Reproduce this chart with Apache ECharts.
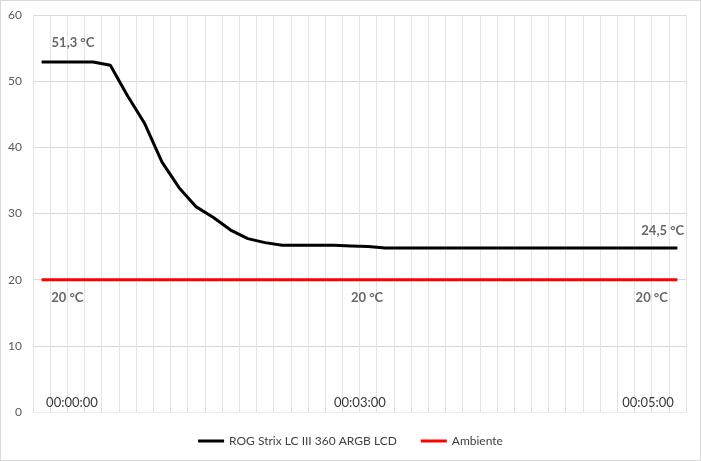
<!DOCTYPE html>
<html>
<head>
<meta charset="utf-8">
<script src="https://cdn.jsdelivr.net/npm/echarts@6/dist/echarts.min.js"></script>
<style>
html,body{margin:0;padding:0;background:#fff;}
#c{width:701px;height:461px;box-sizing:border-box;border:1px solid #d9d9d9;}
</style>
</head>
<body>
<div id="c"></div>
<script>
// Data
var categories = ['1','2','3','4','5','6','7','8','9','10','11','12','13','14','15','16','17','18','19','20',
                  '21','22','23','24','25','26','27','28','29','30','31','32','33','34','35','36','37','38'];
var rogValues = [52.9,52.9,52.9,52.9,52.4,47.8,43.6,37.8,33.9,31.0,29.4,27.5,26.2,25.6,25.2,25.2,25.2,25.2,25.1,25.0,
                 24.8,24.8,24.8,24.8,24.8,24.8,24.8,24.8,24.8,24.8,24.8,24.8,24.8,24.8,24.8,24.8,24.8,24.8];
var ambientValues = [20,20,20,20,20,20,20,20,20,20,20,20,20,20,20,20,20,20,20,20,
                     20,20,20,20,20,20,20,20,20,20,20,20,20,20,20,20,20,20];
var rogLabels = ['51,3 °C','24,5 °C'];
var rogLabelIdx = [2, 36];
var ambientLabels = ['20 °C','20 °C','20 °C'];
var ambientLabelIdx = [1, 19, 36];
var timeLabels = ['00:00:00','00:03:00','00:05:00'];
var timeLabelIdx = [2, 18, 35];
var yTicks = [0,10,20,30,40,50,60];

var FONT = 'Lato, "Liberation Sans", sans-serif';

// builds a sparse label-only series on top of a data series
function labelData(values, idxs, texts, offsets, pos, dist, style){
  return categories.map(function(c,i){
    var k = idxs.indexOf(i);
    if(k<0) return null;
    var lab = {show:true, formatter:texts[k], position:pos, distance:dist[k], offset:[offsets[k],0]};
    for (var s in style) lab[s] = style[s];
    return {value:values[i], label:lab};
  });
}
var annotStyle = {color:'#404040', fontFamily:FONT, fontSize:13, fontWeight:'bold'};
var timeStyle = {color:'#000', fontFamily:FONT, fontSize:13};
var zeroLine = categories.map(function(){return 0;});

var chart = echarts.init(document.getElementById('c'));
chart.setOption({
  animation:false,
  textStyle:{fontFamily:FONT},
  grid:{left:32,right:14,top:14,bottom:48,containLabel:false},
  legend:{
    bottom:8, left:'center',
    itemWidth:26, itemHeight:3, itemGap:24,
    icon:'rect',
    textStyle:{color:'#404040',fontFamily:FONT,fontSize:12},
    data:['ROG Strix LC III 360 ARGB LCD','Ambiente']
  },
  xAxis:{
    type:'category', data:categories, boundaryGap:true,
    axisLine:{show:true,lineStyle:{color:'#ececec'}},
    axisTick:{show:false}, axisLabel:{show:false},
    splitLine:{show:true,interval:0,lineStyle:{color:'#e3e3e3',width:1}}
  },
  yAxis:{
    type:'value', min:0, max:60, interval:10,
    axisLine:{show:false}, axisTick:{show:false},
    axisLabel:{color:'#595959',fontFamily:FONT,fontSize:12,margin:11},
    splitLine:{lineStyle:{color:'#d9d9d9'}}
  },
  series:[
    {name:'ROG Strix LC III 360 ARGB LCD', type:'line', symbol:'none', showSymbol:false,
     lineStyle:{color:'#000',width:3}, itemStyle:{color:'#000'},
     data:rogValues, z:3},
    {name:'Ambiente', type:'line', symbol:'none', showSymbol:false,
     lineStyle:{color:'#ff0000',width:3}, itemStyle:{color:'#ff0000'},
     data:ambientValues, z:2},
    {name:'rogLabels', type:'scatter', symbolSize:1, itemStyle:{color:'rgba(0,0,0,0)'}, silent:true, z:4,
     data:labelData(rogValues, rogLabelIdx, rogLabels, [-3,2.5], 'top', [12,10], annotStyle)},
    {name:'ambLabels', type:'scatter', symbolSize:1, itemStyle:{color:'rgba(0,0,0,0)'}, silent:true, z:4,
     data:labelData(ambientValues, ambientLabelIdx, ambientLabels, [8.5,-1,-8.5], 'bottom', [11,11,11], annotStyle)},
    {name:'time', type:'scatter', symbolSize:1, itemStyle:{color:'rgba(0,0,0,0)'}, silent:true, z:4,
     data:labelData(zeroLine, timeLabelIdx, timeLabels, [-4,9,5], 'top', [2,2,2], timeStyle)}
  ]
});
</script>
</body>
</html>
